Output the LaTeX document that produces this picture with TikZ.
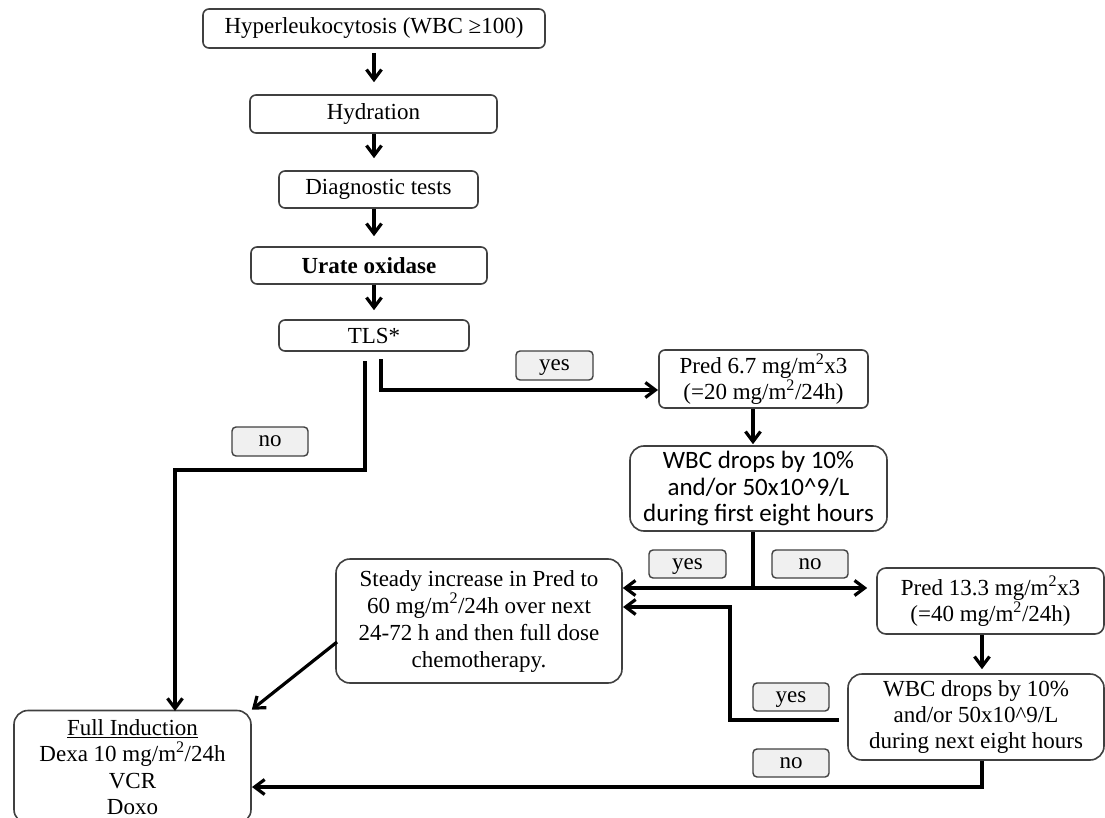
\documentclass[tikz,border=0pt]{standalone}
\usepackage{fontspec}
\setmainfont{Liberation Serif}
\newfontfamily\calib{Carlito}
\usetikzlibrary{arrows.meta}
\definecolor{boxgray}{HTML}{404040}
\definecolor{labfill}{HTML}{F0F0F0}
\begin{document}
\begin{tikzpicture}[x=1pt,y=-1pt,
  box/.style={draw=boxgray, line width=1.6pt, rounded corners=6pt, inner sep=0pt, align=center, font=\fontsize{23}{27}\selectfont},
  bigbox/.style={box, rounded corners=14pt},
  lab/.style={draw=boxgray, fill=labfill, line width=1.4pt, rounded corners=4pt, inner sep=0pt, text depth=0pt, minimum width=76pt, minimum height=29pt, font=\fontsize{23}{27}\selectfont},
  wire/.style={line width=3.2pt},
  conn/.style={wire, -{Straight Barb[length=10pt,width=15pt]}}]
\useasboundingbox (0,0) rectangle (1105,818);

% main column
\node[box, minimum width=342pt, minimum height=39pt] (A) at (374,28.5) {Hyperleukocytosis (WBC ≥100)};
\node[box, minimum width=247pt, minimum height=38pt] (B) at (373.5,114) {Hydration};
\node[box, minimum width=199pt, minimum height=37pt] (C) at (378.5,189.5) {Diagnostic tests};
\node[box, minimum width=236pt, minimum height=37pt, font=\fontsize{23}{27}\selectfont\bfseries] (D) at (369,265.5) {Urate oxidase};
\node[box, minimum width=190pt, minimum height=31pt] (E) at (374,335.5) {TLS*};

% right branch
\node[box, minimum width=209pt, minimum height=58pt, font=\fontsize{23}{24}\selectfont] (P1) at (763.5,379)
  {Pred 6.7 mg/m\textsuperscript{2}x3\\(=20 mg/m\textsuperscript{2}/24h)};
\node[bigbox, minimum width=257pt, minimum height=85pt, font=\calib\fontsize{25}{26.5}\selectfont] (W1) at (758.5,488.5)
  {WBC drops by 10\%\\and/or 50x10\^{}9/L\\during first eight hours};
\node[bigbox, minimum width=286pt, minimum height=124pt] (S) at (479,621)
  {Steady increase in Pred to\\60 mg/m\textsuperscript{2}/24h over next\\24-72 h and then full dose\\chemotherapy.};
\node[box, rounded corners=9pt, minimum width=227pt, minimum height=66pt, font=\fontsize{23}{24}\selectfont] (P2) at (990.5,601)
  {Pred 13.3 mg/m\textsuperscript{2}x3\\(=40 mg/m\textsuperscript{2}/24h)};
\node[bigbox, minimum width=256pt, minimum height=86pt, font=\fontsize{23}{26}\selectfont] (W2) at (976,717)
  {WBC drops by 10\%\\and/or 50x10\^{}9/L\\during next eight hours};
\node[bigbox, minimum width=237pt, minimum height=113pt, font=\fontsize{23}{26.5}\selectfont] (F) at (132.5,767)
  {\underline{Full Induction}\\Dexa 10 mg/m\textsuperscript{2}/24h\\VCR\\Doxo};

% labels
\node[lab] (N1) at (270,441.5) {no};
\node[lab, minimum width=77pt] (Y1) at (554.5,365.5) {yes};
\node[lab, minimum width=77pt, minimum height=28pt] (Y2) at (687.5,564) {yes};
\node[lab, minimum height=28pt] (N2) at (810,564) {no};
\node[lab, minimum height=28pt] (Y3) at (791,697) {yes};
\node[lab, minimum height=28pt] (N3) at (791,763) {no};

% coordinates
\coordinate (col) at (374,0);
\coordinate (tno) at (365,361);
\coordinate (fin) at (175,711);
\coordinate (tyes) at (381,359);
\coordinate (p1in) at (658,390);
\coordinate (split) at (753,588);
\coordinate (p2x) at (982,0);
\coordinate (w2yes) at (839,720);
\coordinate (sin2) at (623,607);
\coordinate (fin2) at (252,787);
\coordinate (sdiag) at (337,642);

% connectors main column
\draw[conn, shorten <=4pt, shorten >=12pt] (A.south -| col) -- (B.north -| col);
\draw[conn, shorten >=12pt] (B.south -| col) -- (C.north -| col);
\draw[conn, shorten >=10pt] (C.south -| col) -- (D.north -| col);
\draw[conn, shorten >=9pt] (D.south -| col) -- (E.north -| col);

% TLS branches
\draw[conn] (tno) -- ++(0,109) -| (fin);
\draw[conn] (tyes) |- (p1in);

% right branch
\draw[conn, shorten >=1pt] (P1.south -| split) -- (W1.north -| split);
\draw[line width=4.2pt] (W1.south -| split) -- (split);
\draw[conn] (split) -- (S.east |- split);
\draw[conn, shorten >=9pt] (split) -- (P2.west |- split);
\draw[conn, shorten >=4pt] (P2.south -| p2x) -- (W2.north -| p2x);
\draw[conn] (w2yes) -- ++(-109,0) |- (sin2);
\draw[conn] (W2.south -| p2x) |- (fin2);
\draw[conn] (sdiag) -- (F.north east);
\end{tikzpicture}
\end{document}
